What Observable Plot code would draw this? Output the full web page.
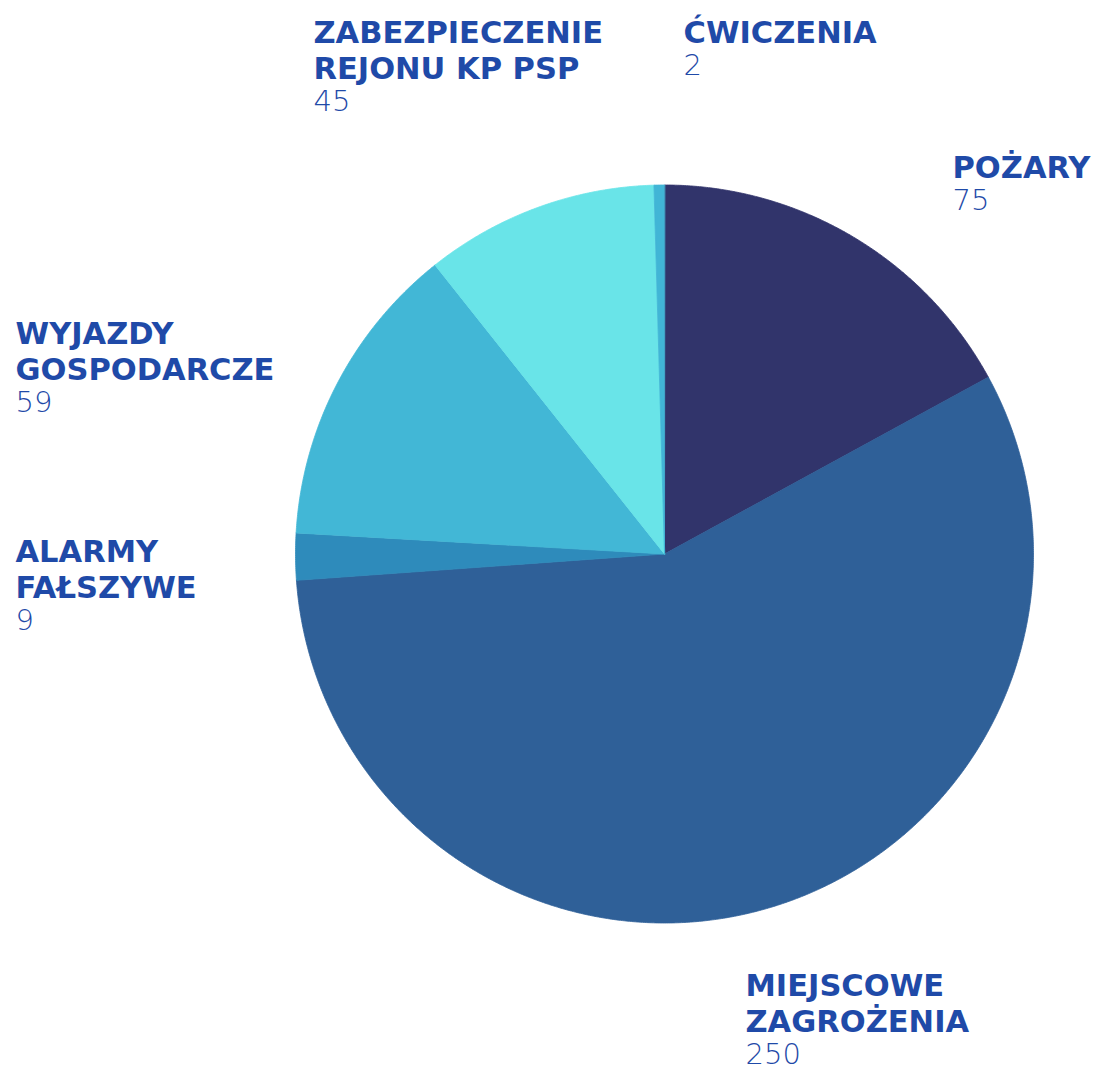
<!DOCTYPE html>
<html>
<head>
<meta charset="utf-8">
<script src="https://cdn.jsdelivr.net/npm/d3@7"></script>
<script src="https://cdn.jsdelivr.net/npm/@observablehq/plot@0.6"></script>
<style>
  html, body { margin: 0; padding: 0; background: #ffffff; }
  #chart svg { display: block; }
</style>
</head>
<body>
<div id="chart"></div>
<script>
// ---- data ----
const categories = ["POŻARY", "MIEJSCOWE ZAGROŻENIA", "ALARMY FAŁSZYWE", "WYJAZDY GOSPODARCZE", "ZABEZPIECZENIE REJONU KP PSP", "ĆWICZENIA"];
const values = [75, 250, 9, 59, 45, 2];
const labelLines = [["POŻARY"], ["MIEJSCOWE", "ZAGROŻENIA"], ["ALARMY", "FAŁSZYWE"], ["WYJAZDY", "GOSPODARCZE"], ["ZABEZPIECZENIE", "REJONU KP PSP"], ["ĆWICZENIA"]];
const colors = ["#31346b", "#2f6098", "#2e8bbb", "#42b7d6", "#69e4e8", "#41b5d6"];

// ---- layout ----
const W = 1097, H = 1070;
const cx = 664, cy = 553.5, R = 369;
const labelPos = [[952, 177], [745, 995], [15, 561], [15, 343], [313, 42], [683, 42]];
const lineStep = 36, valueStep = 32;
const labelColor = "#1f4aa8";

const arcs = d3.pie().sort(null).value(d => d)(values);
const slicePts = [];
arcs.forEach((a, i) => {
  const key = categories[i];
  slicePts.push({key, x: cx, y: cy});
  const n = Math.max(2, Math.ceil((a.endAngle - a.startAngle) / 0.005));
  for (let k = 0; k <= n; k++) {
    const t = a.startAngle + (a.endAngle - a.startAngle) * k / n;
    slicePts.push({key, x: cx + R * Math.sin(t), y: cy - R * Math.cos(t)});
  }
});

const nameRows = [], valueRows = [];
categories.forEach((c, i) => {
  const [lx, ly] = labelPos[i];
  labelLines[i].forEach((t, j) => nameRows.push({text: t, x: lx, y: ly + j * lineStep}));
  valueRows.push({text: String(values[i]), x: lx, y: ly + (labelLines[i].length - 1) * lineStep + valueStep});
});

const chart = Plot.plot({
  width: W, height: H,
  margin: 0,
  x: {domain: [0, W], axis: null},
  y: {domain: [0, H], reverse: true, axis: null},
  color: {type: "ordinal", domain: categories, range: colors},
  marks: [
    Plot.line(slicePts, {x: "x", y: "y", z: "key", fill: "key", stroke: "key", strokeWidth: 0.8, curve: "linear-closed"}),
    Plot.text(nameRows, {x: "x", y: "y", text: "text", textAnchor: "start", lineAnchor: "bottom",
      fill: labelColor, fontSize: 30.5, fontWeight: "bold", fontFamily: "DejaVu Sans"}),
    Plot.text(valueRows, {x: "x", y: "y", text: "text", textAnchor: "start", lineAnchor: "bottom",
      fill: labelColor, fontSize: 29, fontWeight: 300, fontFamily: "DejaVu Sans"})
  ]
});
document.getElementById("chart").appendChild(chart);
</script>
</body>
</html>
